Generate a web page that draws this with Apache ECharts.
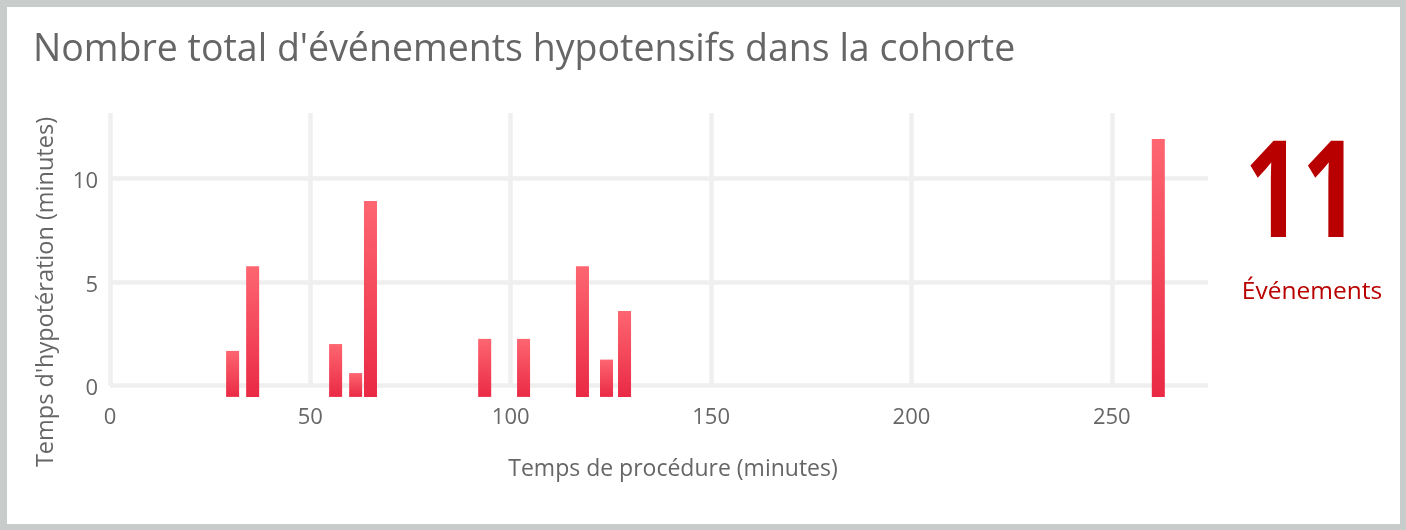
<!DOCTYPE html>
<html>
<head>
<meta charset="utf-8">
<script src="https://cdn.jsdelivr.net/npm/echarts@6/dist/echarts.min.js"></script>
<style>
html,body{margin:0;padding:0;background:#c8cccb;}
#chart{width:1406px;height:530px;}
</style>
</head>
<body>
<div id="chart"></div>
<script>
// ---- data ----
const titleText = "Nombre total d'événements hypotensifs dans la cohorte";
const xAxisTitle = "Temps de procédure (minutes)";
const yAxisTitle = "Temps d'hypotération (minutes)";
const procTimes = [30.6, 35.6, 56.3, 61.3, 65.0, 93.5, 103.2, 117.9, 123.9, 128.4, 261.6];
const hypoMinutes = [1.67, 5.75, 2.0, 0.6, 8.9, 2.25, 2.25, 5.75, 1.25, 3.6, 11.9];
const eventCount = "11";
const eventLabel = "Événements";

// ---- chart ----
const BAR_W = 3.25;     // bar width in x units
const BAR_BASE = -0.55; // bars start slightly below 0
const FONT = "'Open Sans', 'Noto Sans', sans-serif";

const seriesData = procTimes.map((x, i) => [x, hypoMinutes[i]]);

const chart = echarts.init(document.getElementById('chart'), null, {renderer: 'canvas'});
chart.setOption({
  backgroundColor: '#c8cccb',
  animation: false,
  grid: {left: 110, right: 198, top: 113, bottom: 144.5, containLabel: false},
  xAxis: {
    type: 'value', min: 0, max: 274, interval: 50,
    axisLine: {show: false}, axisTick: {show: false},
    axisLabel: {color: '#666', fontSize: 22, margin: 21, fontFamily: FONT, showMaxLabel: false},
    splitLine: {show: true, showMaxLine: false, lineStyle: {color: '#efefef', width: 4.5}}
  },
  yAxis: {
    type: 'value', min: 0, max: 13.15, interval: 5,
    axisLine: {show: false}, axisTick: {show: false},
    axisLabel: {color: '#666', fontSize: 22, margin: 12, fontFamily: FONT, showMaxLabel: false,
                verticalAlign: 'top', lineHeight: 7},
    splitLine: {show: true, showMaxLine: false, lineStyle: {color: '#efefef', width: 4.5}}
  },
  graphic: [
    {type: 'rect', z: -10, shape: {x: 7, y: 7, width: 1393, height: 517}, style: {fill: '#ffffff'}, silent: true},
    {type: 'text', x: 33, y: 50, style: {text: titleText, font: "37.5px " + FONT, fill: '#666666', align: 'left', verticalAlign: 'middle'}},
    {type: 'text', x: 673, y: 469, style: {text: xAxisTitle, font: "23px " + FONT, fill: '#666666', align: 'center', verticalAlign: 'middle'}},
    {type: 'text', x: 46, y: 292, rotation: Math.PI / 2, style: {text: yAxisTitle, font: "23.5px " + FONT, fill: '#666666', align: 'center', verticalAlign: 'middle'}},
    {type: 'text', x: 1302, y: 199, scaleX: 0.75, style: {text: eventCount, font: "bold 134px " + FONT, fill: '#b80000', align: 'center', verticalAlign: 'middle'}},
    {type: 'text', x: 1312, y: 292, style: {text: eventLabel, font: "24.5px " + FONT, fill: '#b80000', align: 'center', verticalAlign: 'middle'}}
  ],
  series: [{
    type: 'custom',
    clip: false,
    data: seriesData,
    renderItem: function (params, api) {
      const x = api.value(0), y = api.value(1);
      const top = api.coord([x, y]);
      const bot = api.coord([x, BAR_BASE]);
      const w = api.size([BAR_W, 0])[0];
      return {
        type: 'rect',
        shape: {x: top[0] - w / 2, y: top[1], width: w, height: bot[1] - top[1]},
        style: {
          fill: {type: 'linear', x: 0, y: 0, x2: 0, y2: 1,
                 colorStops: [{offset: 0, color: '#fd6670'}, {offset: 1, color: '#ea2a45'}]}
        }
      };
    }
  }]
});
</script>
</body>
</html>
